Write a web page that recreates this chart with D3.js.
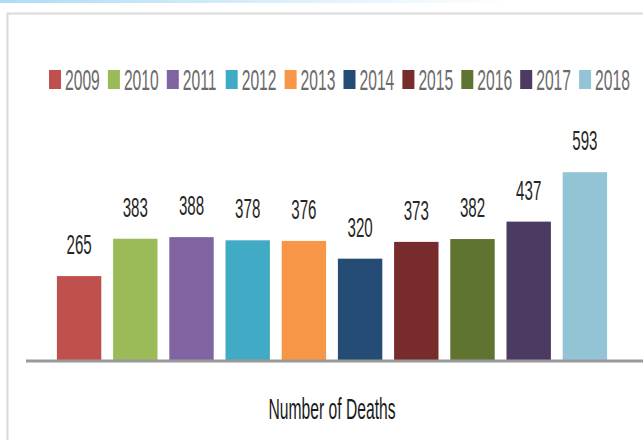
<!DOCTYPE html>
<html>
<head>
<meta charset="utf-8">
<script src="https://cdn.jsdelivr.net/npm/d3@7"></script>
<style>
  html, body { margin: 0; padding: 0; background: #fff; }
  svg { display: block; }
  text { font-family: "Liberation Sans", Arial, sans-serif; }
</style>
</head>
<body>
<div id="chart"></div>
<script>
// data
const years = ["2009", "2010", "2011", "2012", "2013", "2014", "2015", "2016", "2017", "2018"];
const deaths = [265, 383, 388, 378, 376, 320, 373, 382, 437, 593];
const colors = ["#c0504d", "#9bbb59", "#8064a2", "#41abc6", "#f79646",
                "#254c74", "#772b2b", "#5f7431", "#4b3a62", "#93c4d6"];
const axisTitle = "Number of Deaths";

const width = 643, height = 440;
const squish = 0.54; // text in the picture is horizontally condensed

const svg = d3.select("#chart").append("svg")
  .attr("width", width)
  .attr("height", height);

// light blue band along the top
const grad = svg.append("defs").append("linearGradient")
  .attr("id", "topband").attr("x1", "0%").attr("x2", "100%");
grad.append("stop").attr("offset", "0%").attr("stop-color", "#aedcf6");
grad.append("stop").attr("offset", "80%").attr("stop-color", "#ffffff");
svg.append("rect").attr("x", 0).attr("y", 0).attr("width", width).attr("height", 3)
  .attr("fill", "url(#topband)");

// panel frame (top and left edges)
svg.append("path")
  .attr("d", "M7.5,440 V13.5 H643")
  .attr("fill", "none")
  .attr("stroke", "#dadada")
  .attr("stroke-width", 2);

// scales
const x = d3.scaleBand()
  .domain(years)
  .range([51, 613])
  .paddingInner(0.21)
  .paddingOuter(0.105);

const y = d3.scaleLinear()
  .domain([0, 600])
  .range([360, 170]);

// bars
svg.selectAll("rect.bar")
  .data(years)
  .enter()
  .append("rect")
  .attr("class", "bar")
  .attr("x", d => x(d))
  .attr("y", (d, i) => y(deaths[i]))
  .attr("width", x.bandwidth())
  .attr("height", (d, i) => y(0) - y(deaths[i]))
  .attr("fill", (d, i) => colors[i]);

// value labels
svg.selectAll("text.val")
  .data(years)
  .enter()
  .append("text")
  .attr("class", "val")
  .attr("transform", (d, i) =>
    "translate(" + (x(d) + x.bandwidth() / 2) + "," + (y(deaths[i]) - 22) + ") scale(" + squish + ",1)")
  .attr("text-anchor", "middle")
  .attr("font-size", 28)
  .attr("fill", "#262626")
  .text((d, i) => deaths[i]);

// baseline axis
const xAxis = svg.append("g")
  .attr("transform", "translate(0,361)")
  .call(d3.axisBottom(x).tickSize(0).tickFormat(""));
xAxis.select(".domain").remove();
xAxis.append("line")
  .attr("x1", 26).attr("x2", width)
  .attr("stroke", "#999999")
  .attr("stroke-width", 3);

// axis title
svg.append("text")
  .attr("transform", "translate(" + ((x.range()[0] + x.range()[1]) / 2) + ",419) scale(" + squish + ",1)")
  .attr("text-anchor", "middle")
  .attr("font-size", 29)
  .attr("fill", "#1a1a1a")
  .text(axisTitle);

// legend
const legend = svg.append("g").attr("transform", "translate(49,70)");
const item = legend.selectAll("g")
  .data(years)
  .enter()
  .append("g")
  .attr("transform", (d, i) => "translate(" + (i * 58.9) + ",0)");
item.append("rect")
  .attr("width", 12)
  .attr("height", 19)
  .attr("fill", (d, i) => colors[i]);
item.append("text")
  .attr("transform", "translate(16,20) scale(" + squish + ",1)")
  .attr("font-size", 29)
  .attr("fill", "#6b6b6b")
  .text(d => d);
</script>
</body>
</html>
